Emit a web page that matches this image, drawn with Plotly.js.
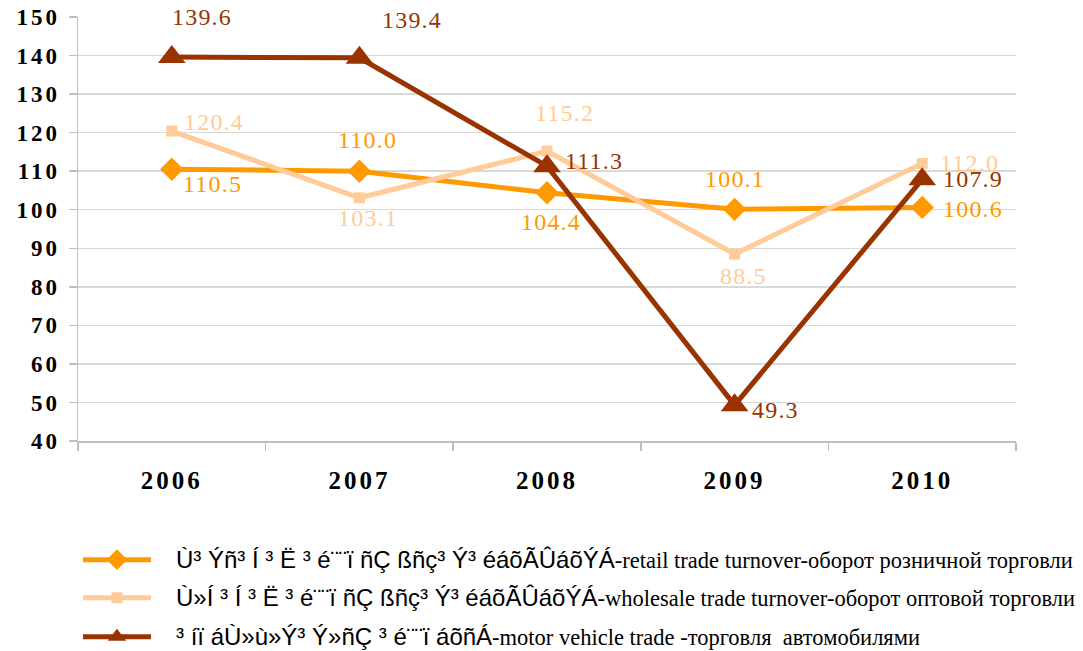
<!DOCTYPE html>
<html>
<head>
<meta charset="utf-8">
<script src="https://cdn.plot.ly/plotly-3.0.1.min.js"></script>
<style>
html,body{margin:0;padding:0;background:#fff;}
#chart{width:1083px;height:651px;}
.ytick text{letter-spacing:3px;}
.xtick text{letter-spacing:3px;}
.annotation-text{letter-spacing:1.2px;}
</style>
</head>
<body>
<div id="chart"></div>
<script>
var years = ['2006', '2007', '2008', '2009', '2010'];
var retail = [110.5, 110.0, 104.4, 100.1, 100.6];
var wholesale = [120.4, 103.1, 115.2, 88.5, 112.0];
var motor = [139.6, 139.4, 111.3, 49.3, 107.9];
var seriesNames = [
  '<span style="font-family:\'Liberation Sans\',Arial,sans-serif;font-size:24px">&nbsp;&nbsp;&nbsp;Ù³ Ýñ³ Í ³ Ë ³ é¨¨ï ñÇ ßñç³ Ý³ éáõÃÛáõÝÁ</span>-retail trade turnover-оборот розничной торговли',
  '<span style="font-family:\'Liberation Sans\',Arial,sans-serif;font-size:24px">&nbsp;&nbsp;&nbsp;Ù»Í ³ Í ³ Ë ³ é¨¨ï ñÇ ßñç³ Ý³ éáõÃÛáõÝÁ</span>-wholesale trade turnover-оборот оптовой торговли',
  '<span style="font-family:\'Liberation Sans\',Arial,sans-serif;font-size:24px">&nbsp;&nbsp;&nbsp;³ íï áÙ»ù»Ý³ Ý»ñÇ ³ é¨¨ï áõñÁ</span>-motor vehicle trade -торговля  автомобилями'
];

var serif = "'Liberation Serif','Times New Roman',serif";
var colors = ['#FF9900', '#FFCC99', '#993300'];

// label offsets in pixels (layout only)
var labelShift = [
  {dx: [41, 8, 4, 0, 51], dy: [15, -31, 29, -30, 2]},
  {dx: [42, 9, 17, 9, 47], dy: [-9, 20, -38, 22, 0]},
  {dx: [30, 53, 47, 41, 51], dy: [-40, -38, -5, 5, 0]}
];

var traces = [
  {
    x: years, y: retail, name: seriesNames[0], type: 'scatter', mode: 'lines+markers',
    line: {color: colors[0], width: 5},
    marker: {symbol: 'diamond', size: 18, color: colors[0]},
    legend: 'legend', cliponaxis: false
  },
  {
    x: years, y: wholesale, name: seriesNames[1], type: 'scatter', mode: 'lines+markers',
    line: {color: colors[1], width: 5},
    marker: {symbol: 'square', size: 11, color: colors[1]},
    legend: 'legend2', cliponaxis: false
  },
  {
    x: years, y: motor, name: seriesNames[2], type: 'scatter', mode: 'lines+markers',
    line: {color: colors[2], width: 5},
    marker: {symbol: 'triangle-up', size: 24, color: colors[2]},
    legend: 'legend3', cliponaxis: false
  }
];

var annotations = [];
[retail, wholesale, motor].forEach(function(series, si){
  series.forEach(function(v, i){
    annotations.push({
      x: i, y: v, xref: 'x', yref: 'y', text: v.toFixed(1), showarrow: false,
      xshift: labelShift[si].dx[i], yshift: -labelShift[si].dy[i],
      xanchor: 'center', yanchor: 'middle',
      font: {family: serif, size: 24, color: colors[si]}
    });
  });
});

function leg(y){
  return {
    xref: 'container', yref: 'container', x: 0.072, y: y, xanchor: 'left', yanchor: 'middle',
    font: {family: serif, size: 22.5, color: '#000'}, itemwidth: 68, bgcolor: 'rgba(0,0,0,0)'
  };
}

var layout = {
  width: 1083, height: 651,
  margin: {l: 78, r: 67, t: 17, b: 210, autoexpand: false},
  paper_bgcolor: '#fff', plot_bgcolor: '#fff',
  showlegend: true,
  annotations: annotations,
  xaxis: {
    type: 'category', range: [-0.5, 4.5], showgrid: false,
    showline: true, linecolor: '#bfbfbf', linewidth: 1.5,
    ticks: 'outside', tickson: 'boundaries', ticklen: 8, tickcolor: '#bfbfbf', tickwidth: 1.5,
    tickfont: {family: serif, size: 25, color: '#000', weight: 'bold'},
    tickangle: 0, automargin: false,
    ticklabelstandoff: 16, fixedrange: true
  },
  yaxis: {
    range: [40, 150], dtick: 10, tick0: 40,
    showgrid: true, gridcolor: '#d9d9d9', gridwidth: 1.5,
    showline: true, linecolor: '#bfbfbf', linewidth: 1.5,
    ticks: 'outside', ticklen: 8, tickcolor: '#bfbfbf', tickwidth: 1.5,
    tickfont: {family: serif, size: 23, color: '#000', weight: 'bold'},
    automargin: false,
    ticklabelstandoff: 4, zeroline: false, fixedrange: true
  },
  legend: leg(1 - 560/651),
  legend2: leg(1 - 598/651),
  legend3: leg(1 - 637/651)
};

Plotly.newPlot('chart', traces, layout, {displayModeBar: false, staticPlot: true});
</script>
</body>
</html>
